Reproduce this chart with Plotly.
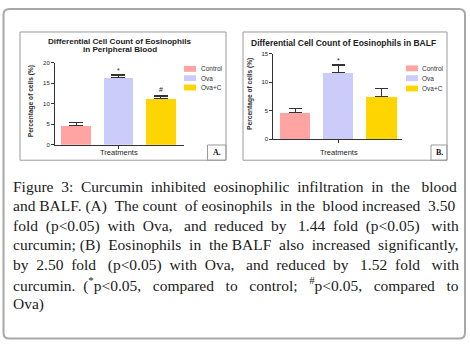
import re
import plotly.graph_objects as go

# ---------------- data ----------------
categories = ["Control", "Ova", "Ova+C"]
colors = ["#FFA3A3", "#CCCCFA", "#FFD500"]

blood_mean = [4.7, 16.3, 11.2]
blood_sem = [0.8, 0.7, 0.7]
blood_sig = ["", "*", "#"]

balf_mean = [4.7, 11.7, 7.5]
balf_sem = [0.75, 1.35, 1.4]
balf_sig = ["", "*", ""]

blood_ticks = [0, 5, 10, 15, 20]
balf_ticks = [0, 5, 10, 15]

title_a_lines = ["Differential Cell Count of Eosinophils", "in Peripheral Blood"]
title_b = "Differential Cell Count of Eosinophils in BALF"
x_title = "Treatments"
y_title = "Percentage of cells (%)"

caption_lines = [
    "Figure 3: Curcumin inhibited eosinophilic infiltration in the blood",
    "and BALF. (A) The count of eosinophils in the blood increased 3.50",
    "fold (p&lt;0.05) with Ova, and reduced by 1.44 fold (p&lt;0.05) with",
    "curcumin; (B) Eosinophils in the BALF also increased significantly,",
    "by 2.50 fold (p&lt;0.05) with Ova, and reduced by 1.52 fold with",
    "curcumin. (<sup>*</sup>p&lt;0.05, compared to control; <sup>#</sup>p&lt;0.05, compared to",
    "Ova)",
]

W, H = 470, 346


def px(x):
    return x / W


def py(y):
    return 1 - y / H


SANS = "Liberation Sans, Arial, sans-serif"
SERIF = "Liberation Serif, Times New Roman, serif"

# Times-Roman advance widths (per 1000 em) for justification of the caption
TW = {' ': 250, '(': 333, ')': 333, '*': 500, '#': 500, ',': 250, '.': 250, ':': 278, ';': 278,
      '<': 564, 'A': 722, 'B': 667, 'C': 667, 'E': 611, 'F': 556, 'L': 611, 'O': 722, 'T': 611,
      'a': 444, 'b': 500, 'c': 444, 'd': 500, 'e': 444, 'f': 333, 'g': 500, 'h': 500, 'i': 278,
      'j': 278, 'k': 500, 'l': 278, 'm': 778, 'n': 500, 'o': 500, 'p': 500, 'q': 500, 'r': 333,
      's': 389, 't': 278, 'u': 500, 'v': 500, 'w': 722, 'x': 500, 'y': 500, 'z': 444}
for d in "0123456789":
    TW[d] = 500

CAP_SIZE = 15.5
CAP_LEFT, CAP_RIGHT = 12, 457


def word_width(w, size):
    total = 0.0
    for part in re.split(r"(<sup>.*?</sup>)", w):
        if part.startswith("<sup>"):
            s = part[5:-6].replace("&lt;", "<")
            total += sum(TW.get(c, 500) for c in s) * 0.7
        else:
            s = part.replace("&lt;", "<")
            total += sum(TW.get(c, 500) for c in s)
    return total * size / 1000


def justify(line, size, target):
    words = line.split(" ")
    g = len(words) - 1
    natural = sum(word_width(w, size) for w in words) + g * 250 * size / 1000
    extra = target - natural
    n_extra = max(0, int(round(extra / (250 * size / 1000))))
    out = words[0]
    for j in range(g):
        k = (n_extra * (j + 1)) // g - (n_extra * j) // g
        out += " " + "&nbsp;" * k + words[j + 1]
    return out


fig = go.Figure()

# bars
for i, cat in enumerate(categories):
    fig.add_trace(go.Bar(
        x=[i], y=[blood_mean[i]], marker=dict(color=colors[i], line=dict(width=0)),
        width=0.7, name=cat, showlegend=False, xaxis="x", yaxis="y",
        error_y=dict(type="data", symmetric=False, array=[blood_sem[i]], arrayminus=[0],
                     color="#333333", thickness=1.2, width=7),
    ))
    fig.add_trace(go.Bar(
        x=[i], y=[balf_mean[i]], marker=dict(color=colors[i], line=dict(width=0)),
        width=0.7, name=cat, showlegend=False, xaxis="x2", yaxis="y2",
        error_y=dict(type="data", symmetric=False, array=[balf_sem[i]], arrayminus=[0],
                     color="#333333", thickness=1.2, width=6.5),
    ))

axis_common = dict(showgrid=False, zeroline=False, showline=True, linecolor="#333333",
                   linewidth=1, ticks="outside", tickcolor="#333333", ticklen=3,
                   tickwidth=1, tickfont=dict(family=SANS, size=6, color="#222"))

fig.update_layout(
    width=W, height=H, margin=dict(l=0, r=0, t=0, b=0),
    paper_bgcolor="white", plot_bgcolor="rgba(0,0,0,0)",
    showlegend=False, bargap=0,
    xaxis=dict(domain=[px(55), px(184)], range=[-0.5, 2.55], tickvals=[1], showticklabels=False,
               anchor="y", **axis_common),
    yaxis=dict(domain=[py(144.3), py(60.7)], range=[0, 20], tickvals=blood_ticks,
               anchor="x", **axis_common),
    xaxis2=dict(domain=[px(273.3), px(402)], range=[-0.52, 2.47], tickvals=[1], showticklabels=False,
                anchor="y2", **axis_common),
    yaxis2=dict(domain=[py(138.7), py(51.7)], range=[0, 15], tickvals=balf_ticks,
                anchor="x2", **axis_common),
)

shapes = []
annotations = []

# outer rounded frame
x0, x1, y0, y1, r = 3.5, 465, 6, 341.5, 6
rx, ry = r / W, r / H
path = (f"M {px(x0)+rx},{py(y0)} L {px(x1)-rx},{py(y0)} Q {px(x1)},{py(y0)} {px(x1)},{py(y0)-ry} "
        f"L {px(x1)},{py(y1)+ry} Q {px(x1)},{py(y1)} {px(x1)-rx},{py(y1)} "
        f"L {px(x0)+rx},{py(y1)} Q {px(x0)},{py(y1)} {px(x0)},{py(y1)+ry} "
        f"L {px(x0)},{py(y0)-ry} Q {px(x0)},{py(y0)} {px(x0)+rx},{py(y0)} Z")
shapes.append(dict(type="path", xref="paper", yref="paper", path=path,
                   line=dict(color="#A8A8A8", width=2)))

# panel boxes and label boxes
for (bx0, bx1), (lx0, lbl) in [((20, 226), (207.5, "A.")), ((243, 447), (431, "B."))]:
    shapes.append(dict(type="rect", xref="paper", yref="paper", x0=px(bx0), x1=px(bx1),
                       y0=py(160), y1=py(29.5), line=dict(color="#9A9A9A", width=1)))
    shapes.append(dict(type="rect", xref="paper", yref="paper", x0=px(lx0), x1=px(bx1),
                       y0=py(160), y1=py(144.5), line=dict(color="#9A9A9A", width=1)))
    annotations.append(dict(xref="paper", yref="paper", x=px((lx0 + bx1) / 2), y=py(152.5),
                            text=f"<b>{lbl}</b>", showarrow=False, xanchor="center",
                            yanchor="middle", font=dict(family=SERIF, size=8, color="#111")))

# titles
for k, t in enumerate(title_a_lines):
    annotations.append(dict(xref="paper", yref="paper", x=px(120), y=py(39 + 8 * k), text=f"<b>{t}</b>",
                            showarrow=False, xanchor="center", yanchor="middle",
                            font=dict(family=SANS, size=8.1, color="#222")))
annotations.append(dict(xref="paper", yref="paper", x=px(248.5), y=py(40.5), text=f"<b>{title_b}</b>",
                        showarrow=False, xanchor="left", yanchor="middle",
                        font=dict(family=SANS, size=8.5, color="#222")))

# axis titles
for xc, yc, xt, yt in [(119, 152, 31, 100), (339, 152, 250.5, 93)]:
    annotations.append(dict(xref="paper", yref="paper", x=px(xc), y=py(yc), text=x_title,
                            showarrow=False, xanchor="center", yanchor="middle",
                            font=dict(family=SANS, size=7.5, color="#222")))
    annotations.append(dict(xref="paper", yref="paper", x=px(xt), y=py(yt), text=f"<b>{y_title}</b>",
                            showarrow=False, xanchor="center", yanchor="middle", textangle=-90,
                            font=dict(family=SANS, size=6.6, color="#333")))

# significance markers
for xa, ya, means, sems, sigs in [("x", "y", blood_mean, blood_sem, blood_sig),
                                   ("x2", "y2", balf_mean, balf_sem, balf_sig)]:
    for i, s in enumerate(sigs):
        if s:
            annotations.append(dict(xref=xa, yref=ya, x=i, y=means[i] + sems[i], text=s,
                                    showarrow=False, xanchor="center", yanchor="bottom",
                                    yshift=(1 if s == "#" else -1),
                                    font=dict(family=SANS, size=7, color="#222")))

# legends
for sx, tx, ys in [(184, 199, [67, 76.5, 86]), (406, 420, [66.5, 76.5, 87])]:
    for i, cat in enumerate(categories):
        shapes.append(dict(type="rect", xref="paper", yref="paper", x0=px(sx), x1=px(sx + 12),
                           y0=py(ys[i] + 3), y1=py(ys[i] - 3), fillcolor=colors[i],
                           line=dict(width=0)))
        annotations.append(dict(xref="paper", yref="paper", x=px(tx), y=py(ys[i]), text=cat,
                                showarrow=False, xanchor="left", yanchor="middle",
                                font=dict(family=SANS, size=6.5, color="#333")))

# caption (justified like the original)
for k, line in enumerate(caption_lines):
    text = line if k == len(caption_lines) - 1 else justify(line, CAP_SIZE, CAP_RIGHT - CAP_LEFT)
    annotations.append(dict(xref="paper", yref="paper", x=px(CAP_LEFT - 1), y=py(187 + 19.9 * k),
                            text=text, showarrow=False, xanchor="left", yanchor="middle",
                            font=dict(family=SERIF, size=CAP_SIZE, color="#1a1a1a")))

fig.update_layout(shapes=shapes, annotations=annotations)
fig.write_html("out.html", config={"displayModeBar": False},
               post_script="document.body.style.margin='0';document.body.style.overflow='hidden';")
